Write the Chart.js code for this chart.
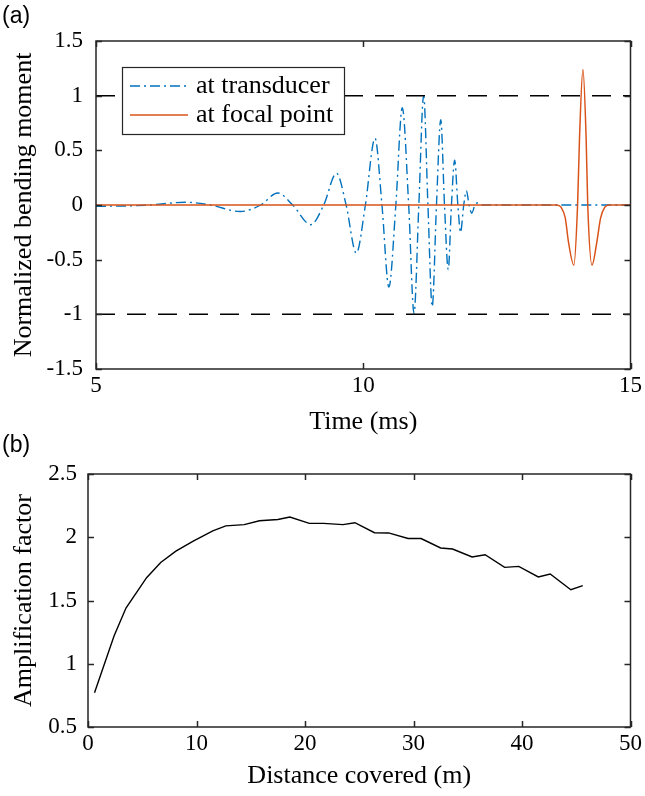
<!DOCTYPE html>
<html><head><meta charset="utf-8">
<script src="https://cdn.jsdelivr.net/npm/chart.js@4.4.1/dist/chart.umd.min.js"></script>
<style>
html,body{margin:0;padding:0;background:#fff;}
#wrap{position:relative;width:645px;height:796px;overflow:hidden;background:#fff;}
canvas{position:absolute;left:0;}
.lab{position:absolute;font-family:"Liberation Sans",Arial,sans-serif;font-size:23px;color:#000;line-height:1;}
.pre{position:absolute;left:-1000px;top:0;font-family:"Liberation Serif";font-size:25px;}
</style></head><body>
<div id="wrap">
<canvas id="cA" width="645" height="440" style="top:0;"></canvas>
<canvas id="cB" width="645" height="356" style="top:440px;"></canvas>
<div class="lab" style="left:2px;top:4px;">(a)</div>
<div class="lab" style="left:2px;top:433px;">(b)</div>
</div>
<div class="pre">Time</div>
<script>
// ---- Panel (a) data ----
const timeTransducer = [5, 5.6, 6.0, 6.67, 7.14, 7.7, 8.08, 8.4, 8.68, 9.02, 9.26, 9.5, 9.68, 9.87, 10.04, 10.22, 10.35, 10.48, 10.61, 10.73, 10.85, 10.95, 11.04, 11.13, 11.21, 11.29, 11.37, 11.45, 11.52, 11.59, 11.65, 11.71, 11.77, 11.82, 11.88, 11.93, 11.98, 12.03, 12.09, 12.15, 12.22, 15];
const momentTransducer = [-0.012, -0.008, 0, 0.025, 0, -0.06, 0, 0.11, 0, -0.18, 0, 0.29, 0, -0.44, 0, 0.61, 0, -0.75, 0, 0.89, 0, -0.99, 0, 1.0, 0, -0.93, 0, 0.78, 0, -0.59, 0, 0.41, 0, -0.25, 0, 0.13, 0, -0.075, 0, 0.02, 0, 0];
const timeFocal = [5, 13.62, 13.7, 13.78, 13.84, 13.94, 14.01, 14.046, 14.11, 14.17, 14.2, 14.28, 14.37, 14.44, 14.52, 14.6, 15];
const momentFocal = [0, 0, -0.02, -0.12, -0.34, -0.55, 0, 0.61, 1.24, 0.61, 0, -0.55, -0.34, -0.12, -0.02, 0, 0];
const refTime = [5, 15];
const refUpper = [1, 1];
const refLower = [-1, -1];
const xTicksA = [5, 10, 15];
const yTicksA = [-1.5, -1, -0.5, 0, 0.5, 1, 1.5];
const seriesLabelsA = ['at transducer', 'at focal point'];

// ---- Panel (b) data ----
const distance = [0.6, 2.4, 3.5, 5.4, 6.7, 8.1, 9.7, 11.5, 12.7, 14.4, 15.8, 17.5, 18.6, 20.4, 21.7, 23.5, 24.6, 26.4, 27.7, 29.5, 30.7, 32.5, 33.6, 35.4, 36.6, 38.4, 39.7, 41.5, 42.6, 44.5, 45.6];
const amplification = [0.77, 1.22, 1.44, 1.68, 1.80, 1.89, 1.97, 2.05, 2.09, 2.10, 2.13, 2.14, 2.16, 2.11, 2.11, 2.10, 2.115, 2.036, 2.034, 1.99, 1.99, 1.915, 1.907, 1.844, 1.862, 1.762, 1.77, 1.686, 1.709, 1.585, 1.617];
const xTicksB = [0, 10, 20, 30, 40, 50];
const yTicksB = [0.5, 1, 1.5, 2, 2.5];

const SERIF = '"Liberation Serif","Times New Roman",serif';
const AXIS = '#262626';
const BLUE = '#0072BD', ORANGE = '#D95319';

const pts = (xs, ys) => xs.map((x, i) => ({x, y: ys[i]}));

const boxTicks = {
  id: 'boxTicks',
  afterDatasetsDraw(chart) {
    const {ctx, chartArea: a, scales: {x, y}} = chart;
    const L = 6;
    ctx.save();
    ctx.strokeStyle = AXIS; ctx.lineWidth = 1.5;
    ctx.beginPath();
    x.ticks.forEach(t => {
      const p = Math.round(x.getPixelForValue(t.value)) + 0.5;
      ctx.moveTo(p, a.bottom); ctx.lineTo(p, a.bottom - L);
      ctx.moveTo(p, a.top); ctx.lineTo(p, a.top + L);
    });
    y.ticks.forEach(t => {
      const p = Math.round(y.getPixelForValue(t.value)) + 0.5;
      ctx.moveTo(a.left, p); ctx.lineTo(a.left + L, p);
      ctx.moveTo(a.right, p); ctx.lineTo(a.right - L, p);
    });
    ctx.stroke();
    ctx.strokeRect(a.left, a.top, a.right - a.left, a.bottom - a.top);
    ctx.restore();
  }
};

const legendBox = {
  id: 'legendBox',
  afterDraw(chart) {
    const {ctx, chartArea: a} = chart;
    const bx = a.left + 26, by = a.top + 26, bw = 222, bh = 67;
    ctx.save();
    ctx.fillStyle = '#fff'; ctx.fillRect(bx, by, bw, bh);
    ctx.strokeStyle = AXIS; ctx.lineWidth = 1.2; ctx.strokeRect(bx + 0.5, by + 0.5, bw, bh);
    const items = chart.data.datasets.filter(d => d.inLegend);
    items.forEach((d, i) => {
      const cy = by + 19 + i * 29;
      ctx.strokeStyle = d.borderColor; ctx.lineWidth = d.borderWidth;
      ctx.setLineDash(d.borderDash || []);
      ctx.beginPath(); ctx.moveTo(bx + 8, cy); ctx.lineTo(bx + 66, cy); ctx.stroke();
      ctx.setLineDash([]);
      ctx.fillStyle = '#000'; ctx.font = '26px ' + SERIF; ctx.textBaseline = 'middle';
      ctx.fillText(d.label, bx + 74, cy);
    });
    ctx.restore();
  }
};

function axisCommon(ticksArr, min, max, titleText, isX, size, pad, titlePad) {
  return {
    type: 'linear', min, max,
    afterBuildTicks: s => { s.ticks = ticksArr.map(v => ({value: v})); },
    afterFit: s => { if (isX) s.height = size; else s.width = size; },
    grid: {display: false, drawTicks: false},
    border: {display: false},
    ticks: {font: {family: SERIF, size: 23}, color: '#000', padding: pad, autoSkip: false, maxRotation: 0,
            callback: v => String(v)},
    title: {display: true, text: titleText, color: '#000', font: {family: SERIF, size: 26}, padding: titlePad}
  };
}

function draw() {
  new Chart(document.getElementById('cA'), {
    type: 'scatter',
    data: {
      datasets: [
        {label: seriesLabelsA[0], inLegend: true, data: pts(timeTransducer, momentTransducer), showLine: true, borderColor: BLUE, borderWidth: 1.4, borderDash: [10, 4, 2, 4], pointRadius: 0, cubicInterpolationMode: 'monotone', order: 3},
        {label: seriesLabelsA[1], inLegend: true, data: pts(timeFocal, momentFocal), showLine: true, borderColor: ORANGE, borderWidth: 1.5, pointRadius: 0, cubicInterpolationMode: 'monotone', order: 2},
        {label: 'upper', data: pts(refTime, refUpper), showLine: true, borderColor: '#000', borderWidth: 1.5, borderDash: [19, 12], pointRadius: 0, order: 1},
        {label: 'lower', data: pts(refTime, refLower), showLine: true, borderColor: '#000', borderWidth: 1.5, borderDash: [19, 12], pointRadius: 0, order: 1}
      ]
    },
    options: {
      responsive: false, animation: false, devicePixelRatio: 1,
      layout: {padding: {top: 41, right: 11, left: 0, bottom: 0}},
      plugins: {legend: {display: false}, tooltip: {enabled: false}},
      scales: {
        x: axisCommon(xTicksA, 5, 15, 'Time (ms)', true, 71, 3, {top: 0, bottom: 2}),
        y: axisCommon(yTicksA, -1.5, 1.5, 'Normalized bending moment', false, 96, 13, {top: 9, bottom: 0})
      }
    },
    plugins: [boxTicks, legendBox]
  });

  new Chart(document.getElementById('cB'), {
    type: 'scatter',
    data: {
      datasets: [
        {label: 'Amplification factor', data: pts(distance, amplification), showLine: true, borderColor: '#000', borderWidth: 1.4, pointRadius: 0, tension: 0}
      ]
    },
    options: {
      responsive: false, animation: false, devicePixelRatio: 1,
      layout: {padding: {top: 34, right: 11, left: 0, bottom: 0}},
      plugins: {legend: {display: false}, tooltip: {enabled: false}},
      scales: {
        x: axisCommon(xTicksB, 0, 50, 'Distance covered (m)', true, 69, 3, {top: 0, bottom: 4}),
        y: axisCommon(yTicksB, 0.5, 2.5, 'Amplification factor', false, 88, 11, {top: 9, bottom: 0})
      }
    },
    plugins: [boxTicks]
  });
}

let drawn = false;
function go() { if (!drawn) { drawn = true; draw(); } }
if (document.fonts && document.fonts.load) {
  Promise.all([document.fonts.load('26px "Liberation Serif"'), document.fonts.load('23px "Liberation Serif"')]).then(go, go);
  setTimeout(go, 1500);
} else { go(); }
</script>
</body></html>
